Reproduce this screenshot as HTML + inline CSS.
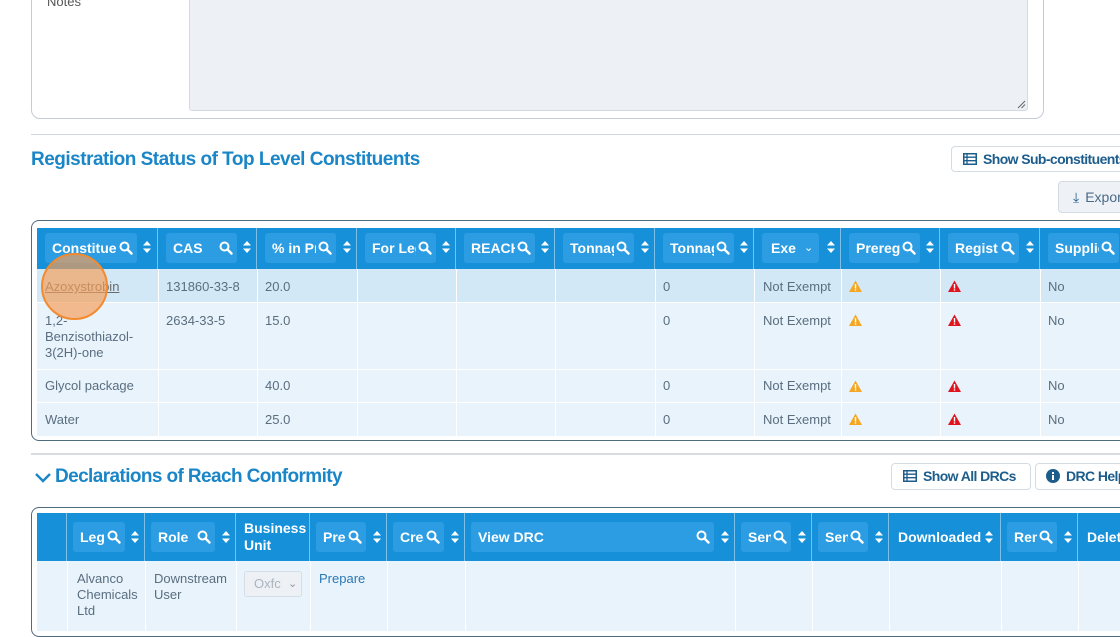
<!DOCTYPE html>
<html><head><meta charset="utf-8"><style>
*{box-sizing:border-box;margin:0;padding:0}
body{width:1120px;height:626px;overflow:hidden;background:#fff;font-family:"Liberation Sans",sans-serif;position:relative}
.a{position:absolute}
.hd{position:absolute;background:#1690d8;}
.hc{position:absolute;top:0;height:100%;border-right:1px solid #7cc0ea}
.bx{position:absolute;top:5px;height:30px;background:#2c9de2;border-radius:3px;color:#fff;font-weight:bold;font-size:14px;line-height:30px;padding-left:7px;overflow:hidden;white-space:nowrap}
.bx span.t{display:block;overflow:hidden;margin-right:20px}
.bx svg{position:absolute;right:4px;top:8px}
.so{position:absolute;top:13px}
.td{position:absolute;font-size:13px;color:#5a6e80;line-height:16px}
.vl{position:absolute;width:1px;background:#fff}
.hl{position:absolute;height:1px;background:#fff}
.btn{position:absolute;border:1px solid #d3dbe3;border-radius:4px;background:#fff;font-weight:bold;font-size:14px;color:#1d5d8c;letter-spacing:-0.6px;line-height:24px;white-space:nowrap;overflow:hidden}
.link{color:#2a78b5}
</style></head><body>
<svg width="0" height="0" style="position:absolute"><defs>
<g id="mg"><circle cx="5.5" cy="5.5" r="4" fill="none" stroke="#fff" stroke-width="2"/><line x1="8.5" y1="8.5" x2="12.5" y2="12.5" stroke="#fff" stroke-width="2.4" stroke-linecap="round"/></g>
<g id="so"><path d="M4 0L8 4.5H0Z M4 12L8 7.5H0Z" fill="#fff"/></g>
<g id="wy"><path d="M6.5 0.5L13 12H0Z" fill="#f5a623"/><rect x="5.8" y="4" width="1.4" height="4.5" fill="#fff"/><rect x="5.8" y="9.3" width="1.4" height="1.4" fill="#fff"/></g>
<g id="wr"><path d="M6.5 0.5L13 12H0Z" fill="#e0141e"/><rect x="5.8" y="4" width="1.4" height="4.5" fill="#fff"/><rect x="5.8" y="9.3" width="1.4" height="1.4" fill="#fff"/></g>
</defs></svg>

<!-- Notes panel -->
<div class="a" style="left:31px;top:-10px;width:1013px;height:129px;border:1px solid #c4ccd4;border-top:none;border-radius:0 0 9px 9px"></div>
<div class="a" style="left:47px;top:-6px;font-size:13px;color:#555">Notes</div>
<div class="a" style="left:189px;top:-5px;width:839px;height:116px;background:#edf0f4;border:1px solid #d3d9e0;border-radius:3px"></div>
<svg class="a" style="left:1016px;top:99px" width="10" height="10"><line x1="2" y1="9" x2="9" y2="2" stroke="#666" stroke-width="1"/><line x1="5.5" y1="9" x2="9" y2="5.5" stroke="#666" stroke-width="1"/></svg>
<div class="a" style="left:31px;top:134px;width:1089px;height:1px;background:#cfd5db"></div>

<div class="a" style="left:31px;top:149px;font-size:19px;font-weight:bold;color:#1b86c7;letter-spacing:-0.5px">Registration Status of Top Level Constituents</div>
<div class="btn" style="left:951px;top:146px;width:190px;height:26px;padding-left:11px"><svg width="14" height="12" style="vertical-align:-1px;margin-right:6px"><rect x="0.75" y="0.75" width="12.5" height="10.5" fill="none" stroke="#1d5d8c" stroke-width="1.5"/><line x1="0" y1="4.2" x2="14" y2="4.2" stroke="#1d5d8c" stroke-width="1.3"/><line x1="0" y1="7.7" x2="14" y2="7.7" stroke="#1d5d8c" stroke-width="1.3"/><line x1="4" y1="0" x2="4" y2="12" stroke="#1d5d8c" stroke-width="1.3"/></svg>Show Sub-constituents</div>
<div class="btn" style="left:1058px;top:181px;width:80px;height:32px;background:#eef2f6;font-weight:normal;color:#4a6a85;line-height:30px;padding-left:14px;letter-spacing:0"><span style="color:#1d5d8c;margin-right:6px">⤓</span>Export</div>

<!-- Table 1 -->
<div class="a" style="left:31px;top:220px;width:1100px;height:221px;border:1.5px solid #4f6b80;border-radius:8px"></div>
<div class="a" style="left:37px;top:269px;width:1083px;height:167px;background:#e8f3fb"></div>
<div class="a" style="left:37px;top:269px;width:1083px;height:34px;background:#d3e8f6"></div>
<div class="hd" style="left:37px;top:228px;width:1083px;height:41px"></div>
<div class="hl" style="left:37px;top:302px;width:1083px"></div>
<div class="hl" style="left:37px;top:369px;width:1083px"></div>
<div class="hl" style="left:37px;top:402px;width:1083px"></div>
<div class="vl" style="left:158px;top:269px;height:167px"></div>
<div class="vl" style="left:257px;top:269px;height:167px"></div>
<div class="vl" style="left:357px;top:269px;height:167px"></div>
<div class="vl" style="left:456px;top:269px;height:167px"></div>
<div class="vl" style="left:555px;top:269px;height:167px"></div>
<div class="vl" style="left:655px;top:269px;height:167px"></div>
<div class="vl" style="left:754px;top:269px;height:167px"></div>
<div class="vl" style="left:841px;top:269px;height:167px"></div>
<div class="vl" style="left:940px;top:269px;height:167px"></div>
<div class="vl" style="left:1040px;top:269px;height:167px"></div>

<div class="a" style="left:37px;top:228px;width:1083px;height:41px">
<div class="hc" style="left:0;width:121px"><div class="bx" style="left:8px;width:92px"><span class="t">Constituent</span><svg width="14" height="14"><use href="#mg"/></svg></div><svg class="so" style="left:106px" width="8" height="12"><use href="#so"/></svg></div>
<div class="hc" style="left:121px;width:99px"><div class="bx" style="left:8px;width:71px"><span class="t">CAS</span><svg width="14" height="14"><use href="#mg"/></svg></div><svg class="so" style="left:85px" width="8" height="12"><use href="#so"/></svg></div>
<div class="hc" style="left:220px;width:100px"><div class="bx" style="left:8px;width:71px"><span class="t">% in Product</span><svg width="14" height="14"><use href="#mg"/></svg></div><svg class="so" style="left:86px" width="8" height="12"><use href="#so"/></svg></div>
<div class="hc" style="left:320px;width:99px"><div class="bx" style="left:8px;width:71px"><span class="t">For Legal</span><svg width="14" height="14"><use href="#mg"/></svg></div><svg class="so" style="left:85px" width="8" height="12"><use href="#so"/></svg></div>
<div class="hc" style="left:419px;width:99px"><div class="bx" style="left:8px;width:71px"><span class="t">REACH</span><svg width="14" height="14"><use href="#mg"/></svg></div><svg class="so" style="left:85px" width="8" height="12"><use href="#so"/></svg></div>
<div class="hc" style="left:518px;width:100px"><div class="bx" style="left:8px;width:71px"><span class="t">Tonnage</span><svg width="14" height="14"><use href="#mg"/></svg></div><svg class="so" style="left:86px" width="8" height="12"><use href="#so"/></svg></div>
<div class="hc" style="left:618px;width:99px"><div class="bx" style="left:8px;width:71px"><span class="t">Tonnage</span><svg width="14" height="14"><use href="#mg"/></svg></div><svg class="so" style="left:85px" width="8" height="12"><use href="#so"/></svg></div>
<div class="hc" style="left:717px;width:87px"><div class="bx" style="left:8px;width:57px;padding-left:9px">Exe<span style="position:absolute;left:42px;top:0;font-weight:normal;font-size:11px">⌄</span></div><svg class="so" style="left:73px" width="8" height="12"><use href="#so"/></svg></div>
<div class="hc" style="left:804px;width:99px"><div class="bx" style="left:8px;width:71px"><span class="t">Prereg</span><svg width="14" height="14"><use href="#mg"/></svg></div><svg class="so" style="left:85px" width="8" height="12"><use href="#so"/></svg></div>
<div class="hc" style="left:903px;width:100px"><div class="bx" style="left:8px;width:71px"><span class="t">Regist</span><svg width="14" height="14"><use href="#mg"/></svg></div><svg class="so" style="left:86px" width="8" height="12"><use href="#so"/></svg></div>
<div class="hc" style="left:1003px;width:90px;border:none"><div class="bx" style="left:8px;width:71px"><span class="t">Supplier</span><svg width="14" height="14"><use href="#mg"/></svg></div></div>
</div>

<div class="td" style="left:45px;top:279px;color:#6a6a6a;text-decoration:underline">Azoxystrobin</div>
<div class="td" style="left:166px;top:279px">131860-33-8</div>
<div class="td" style="left:265px;top:279px">20.0</div>
<div class="td" style="left:45px;top:313px;width:100px">1,2-<br>Benzisothiazol-<br>3(2H)-one</div>
<div class="td" style="left:166px;top:313px">2634-33-5</div>
<div class="td" style="left:265px;top:313px">15.0</div>
<div class="td" style="left:45px;top:378px">Glycol package</div>
<div class="td" style="left:265px;top:378px">40.0</div>
<div class="td" style="left:45px;top:412px">Water</div>
<div class="td" style="left:265px;top:412px">25.0</div>
<div class="td" style="left:663px;top:279px">0</div><div class="td" style="left:763px;top:279px">Not Exempt</div><svg class="a" style="left:849px;top:280px" width="13" height="12"><use href="#wy"/></svg><svg class="a" style="left:948px;top:280px" width="13" height="12"><use href="#wr"/></svg><div class="td" style="left:1048px;top:279px">No</div>
<div class="td" style="left:663px;top:313px">0</div><div class="td" style="left:763px;top:313px">Not Exempt</div><svg class="a" style="left:849px;top:314px" width="13" height="12"><use href="#wy"/></svg><svg class="a" style="left:948px;top:314px" width="13" height="12"><use href="#wr"/></svg><div class="td" style="left:1048px;top:313px">No</div>
<div class="td" style="left:663px;top:378px">0</div><div class="td" style="left:763px;top:378px">Not Exempt</div><svg class="a" style="left:849px;top:380px" width="13" height="12"><use href="#wy"/></svg><svg class="a" style="left:948px;top:380px" width="13" height="12"><use href="#wr"/></svg><div class="td" style="left:1048px;top:378px">No</div>
<div class="td" style="left:663px;top:412px">0</div><div class="td" style="left:763px;top:412px">Not Exempt</div><svg class="a" style="left:849px;top:413px" width="13" height="12"><use href="#wy"/></svg><svg class="a" style="left:948px;top:413px" width="13" height="12"><use href="#wr"/></svg><div class="td" style="left:1048px;top:412px">No</div>

<div class="a" style="left:41px;top:253px;width:67px;height:67px;border-radius:50%;background:rgba(244,158,88,0.68);border:2.5px solid #f28b30"></div>

<!-- Section 2 -->
<div class="a" style="left:31px;top:453px;width:1089px;height:2px;background:#d7dce1"></div>
<svg class="a" style="left:34px;top:472px" width="18" height="12"><path d="M2 2L9 9L16 2" fill="none" stroke="#1b86c7" stroke-width="2.4"/></svg>
<div class="a" style="left:55px;top:466px;font-size:19px;font-weight:bold;color:#1b86c7;letter-spacing:-0.6px">Declarations of Reach Conformity</div>
<div class="btn" style="left:891px;top:463px;width:140px;height:27px;padding-left:11px"><svg width="14" height="12" style="vertical-align:-1px;margin-right:6px"><rect x="0.75" y="0.75" width="12.5" height="10.5" fill="none" stroke="#1d5d8c" stroke-width="1.5"/><line x1="0" y1="4.2" x2="14" y2="4.2" stroke="#1d5d8c" stroke-width="1.3"/><line x1="0" y1="7.7" x2="14" y2="7.7" stroke="#1d5d8c" stroke-width="1.3"/><line x1="4" y1="0" x2="4" y2="12" stroke="#1d5d8c" stroke-width="1.3"/></svg>Show All DRCs</div>
<div class="btn" style="left:1035px;top:463px;width:100px;height:27px;padding-left:10px"><svg width="14" height="14" style="vertical-align:-2px;margin-right:6px"><circle cx="7" cy="7" r="7" fill="#1d5d8c"/><rect x="6" y="6" width="2" height="5" fill="#fff"/><rect x="6" y="3" width="2" height="2" fill="#fff"/></svg>DRC Help</div>

<div class="a" style="left:31px;top:507px;width:1100px;height:130px;border:1.5px solid #4f6b80;border-radius:8px"></div>
<div class="a" style="left:37px;top:561px;width:1083px;height:70px;background:#e8f3fb"></div>
<div class="hd" style="left:37px;top:513px;width:1083px;height:48px"></div>
<div class="vl" style="left:67px;top:561px;height:70px"></div>
<div class="vl" style="left:145px;top:561px;height:70px"></div>
<div class="vl" style="left:236px;top:561px;height:70px"></div>
<div class="vl" style="left:310px;top:561px;height:70px"></div>
<div class="vl" style="left:387px;top:561px;height:70px"></div>
<div class="vl" style="left:465px;top:561px;height:70px"></div>
<div class="vl" style="left:735px;top:561px;height:70px"></div>
<div class="vl" style="left:812px;top:561px;height:70px"></div>
<div class="vl" style="left:889px;top:561px;height:70px"></div>
<div class="vl" style="left:1001px;top:561px;height:70px"></div>
<div class="vl" style="left:1078px;top:561px;height:70px"></div>

<div class="a" style="left:37px;top:513px;width:1083px;height:48px">
<div class="hc" style="left:0;width:30px"></div>
<div class="hc" style="left:30px;width:78px"><div class="bx" style="left:6px;top:9px;width:52px"><span class="t">Legal</span><svg width="14" height="14"><use href="#mg"/></svg></div><svg class="so" style="left:64px;top:18px" width="8" height="12"><use href="#so"/></svg></div>
<div class="hc" style="left:108px;width:91px"><div class="bx" style="left:6px;top:9px;width:64px"><span class="t">Role</span><svg width="14" height="14"><use href="#mg"/></svg></div><svg class="so" style="left:77px;top:18px" width="8" height="12"><use href="#so"/></svg></div>
<div class="hc" style="left:199px;width:74px;color:#fff;font-weight:bold;font-size:14px;line-height:17px;padding:7px 0 0 8px">Business<br>Unit</div>
<div class="hc" style="left:273px;width:77px"><div class="bx" style="left:6px;top:9px;width:50px"><span class="t">Prepare</span><svg width="14" height="14"><use href="#mg"/></svg></div><svg class="so" style="left:63px;top:18px" width="8" height="12"><use href="#so"/></svg></div>
<div class="hc" style="left:350px;width:78px"><div class="bx" style="left:6px;top:9px;width:51px"><span class="t">Created</span><svg width="14" height="14"><use href="#mg"/></svg></div><svg class="so" style="left:64px;top:18px" width="8" height="12"><use href="#so"/></svg></div>
<div class="hc" style="left:428px;width:270px"><div class="bx" style="left:6px;top:9px;width:243px"><span class="t">View DRC</span><svg width="14" height="14"><use href="#mg"/></svg></div><svg class="so" style="left:256px;top:18px" width="8" height="12"><use href="#so"/></svg></div>
<div class="hc" style="left:698px;width:77px"><div class="bx" style="left:6px;top:9px;width:50px"><span class="t">Sent</span><svg width="14" height="14"><use href="#mg"/></svg></div><svg class="so" style="left:63px;top:18px" width="8" height="12"><use href="#so"/></svg></div>
<div class="hc" style="left:775px;width:77px"><div class="bx" style="left:6px;top:9px;width:50px"><span class="t">Sent</span><svg width="14" height="14"><use href="#mg"/></svg></div><svg class="so" style="left:63px;top:18px" width="8" height="12"><use href="#so"/></svg></div>
<div class="hc" style="left:852px;width:112px;color:#fff;font-weight:bold;font-size:14px;line-height:48px;padding-left:9px">Downloaded <svg width="8" height="12" style="vertical-align:-1px"><use href="#so"/></svg></div>
<div class="hc" style="left:964px;width:77px"><div class="bx" style="left:6px;top:9px;width:50px"><span class="t">Remind</span><svg width="14" height="14"><use href="#mg"/></svg></div><svg class="so" style="left:63px;top:18px" width="8" height="12"><use href="#so"/></svg></div>
<div class="hc" style="left:1041px;width:60px;border:none;color:#fff;font-weight:bold;font-size:14px;line-height:48px;padding-left:9px">Delete</div>
</div>

<div class="td" style="left:77px;top:571px;line-height:16px">Alvanco<br>Chemicals<br>Ltd</div>
<div class="td" style="left:154px;top:571px">Downstream<br>User</div>
<div class="a" style="left:244px;top:571px;width:58px;height:26px;border:1px solid #d6dde4;border-radius:3px;background:#edf1f5;font-size:13px;color:#aab4bd;line-height:24px;padding-left:9px">Oxfc <span style="position:absolute;left:43px;top:0;font-size:11px;color:#8a96a0">⌄</span></div>
<div class="td link" style="left:319px;top:571px">Prepare</div>
</body></html>
